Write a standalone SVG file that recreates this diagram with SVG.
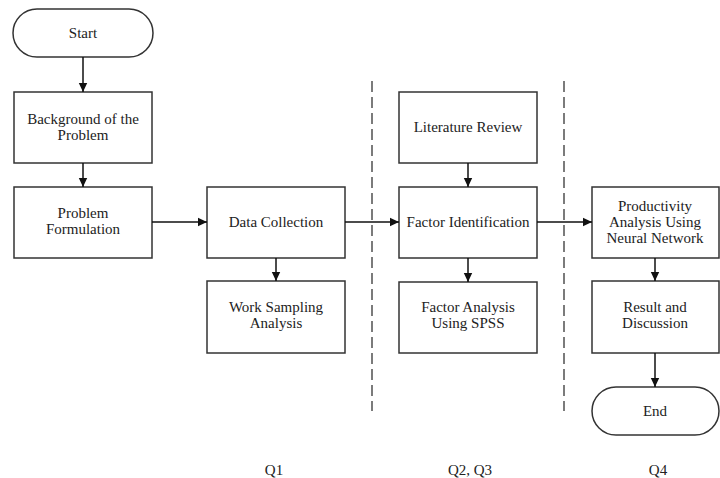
<svg xmlns="http://www.w3.org/2000/svg" width="720" height="478" viewBox="0 0 720 478">
<defs>
<marker id="ah" markerWidth="10" markerHeight="10" refX="9" refY="5" orient="auto" markerUnits="userSpaceOnUse">
<path d="M0,0.8 L9,5 L0,9.2 Z" fill="#111"/>
</marker>
<style>
.box{fill:#fff;stroke:#333;stroke-width:1.5}
.t{font-family:"Liberation Serif","Times New Roman",serif;font-size:15px;fill:#222;text-anchor:middle}
.c{fill:none;stroke:#111;stroke-width:1.5;marker-end:url(#ah)}
.d{fill:none;stroke:#444;stroke-width:1.4;stroke-dasharray:11,5}
</style>
</defs>
<rect width="720" height="478" fill="#fff"/>
<g id="dividers">
<line class="d" x1="372" y1="81" x2="372" y2="411"/>
<line class="d" x1="564" y1="81" x2="564" y2="411"/>
</g>
<g id="start"><rect class="box" x="13" y="9" width="140" height="48" rx="24"/><text class="t" x="83" y="38">Start</text></g>
<g id="background"><rect class="box" x="14" y="92" width="138" height="71"/><text class="t" x="83" y="124">Background of the</text><text class="t" x="83" y="140">Problem</text></g>
<g id="problem"><rect class="box" x="14" y="187" width="138" height="71"/><text class="t" x="83" y="218">Problem</text><text class="t" x="83" y="234">Formulation</text></g>
<g id="data"><rect class="box" x="207" y="187" width="138" height="71"/><text class="t" x="276" y="227">Data Collection</text></g>
<g id="work"><rect class="box" x="207" y="281" width="138" height="72"/><text class="t" x="276" y="312">Work Sampling</text><text class="t" x="276" y="328">Analysis</text></g>
<g id="literature"><rect class="box" x="399" y="92" width="138" height="71"/><text class="t" x="468" y="132">Literature Review</text></g>
<g id="factorid"><rect class="box" x="399" y="187" width="138" height="71"/><text class="t" x="468" y="227">Factor Identification</text></g>
<g id="factoran"><rect class="box" x="399" y="282" width="138" height="71"/><text class="t" x="468" y="312">Factor Analysis</text><text class="t" x="468" y="328">Using SPSS</text></g>
<g id="productivity"><rect class="box" x="592" y="187" width="127" height="71"/><text class="t" x="655" y="211">Productivity</text><text class="t" x="655" y="227">Analysis Using</text><text class="t" x="655" y="243">Neural Network</text></g>
<g id="result"><rect class="box" x="592" y="281" width="127" height="72"/><text class="t" x="655" y="312">Result and</text><text class="t" x="655" y="328">Discussion</text></g>
<g id="end"><rect class="box" x="592" y="387" width="127" height="48" rx="24"/><text class="t" x="655" y="416">End</text></g>
<g id="connectors">
<line class="c" x1="83" y1="57" x2="83" y2="92"/>
<line class="c" x1="83" y1="163" x2="83" y2="187"/>
<line class="c" x1="152" y1="222" x2="207" y2="222"/>
<line class="c" x1="276" y1="258" x2="276" y2="281"/>
<line class="c" x1="345" y1="222" x2="399" y2="222"/>
<line class="c" x1="468" y1="163" x2="468" y2="187"/>
<line class="c" x1="468" y1="258" x2="468" y2="282"/>
<line class="c" x1="537" y1="222" x2="592" y2="222"/>
<line class="c" x1="655" y1="258" x2="655" y2="281"/>
<line class="c" x1="655" y1="353" x2="655" y2="387"/>
</g>
<g id="labels">
<text class="t" x="274" y="475">Q1</text>
<text class="t" x="470" y="475">Q2, Q3</text>
<text class="t" x="658" y="475">Q4</text>
</g>
</svg>
